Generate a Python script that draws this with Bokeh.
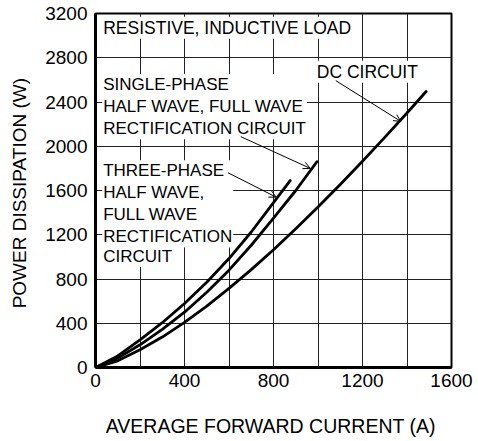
import math
from bokeh.plotting import figure
from bokeh.models import Range1d, FixedTicker, Label, Arrow, OpenHead
from bokeh.embed import file_html
from bokeh.resources import INLINE

FONT = "Liberation Sans"

# Data (A -> W)
three_x = [0, 100, 200, 300, 400, 500, 600, 700, 800, 875]
three_y = [0, 105, 250, 405, 578, 770, 985, 1225, 1490, 1690]
single_x = [0, 100, 200, 300, 400, 500, 600, 700, 800, 900, 995]
single_y = [0, 85, 205, 345, 500, 680, 880, 1105, 1350, 1600, 1860]
dc_x = [0, 100, 200, 300, 400, 500, 600, 700, 800, 900, 1000, 1100, 1200, 1300, 1400, 1486]
dc_y = [0, 60, 160, 275, 408, 555, 715, 885, 1065, 1255, 1450, 1655, 1865, 2080, 2300, 2495]

x_ticks = [0, 400, 800, 1200, 1600]
y_ticks = [0, 400, 800, 1200, 1600, 2000, 2400, 2800, 3200]
x_grid = [200, 400, 600, 800, 1000, 1200, 1400]
y_grid = [400, 800, 1200, 1600, 2000, 2400, 2800]

x_title = "AVERAGE FORWARD CURRENT  (A)"
y_title = "POWER DISSIPATION  (W)"
load_text = "RESISTIVE, INDUCTIVE LOAD"
single_text = "SINGLE-PHASE\nHALF WAVE, FULL WAVE\nRECTIFICATION CIRCUIT"
three_text = "THREE-PHASE\nHALF WAVE,\nFULL WAVE\nRECTIFICATION"
three_text2 = "CIRCUIT"
dc_text = "DC CIRCUIT"

p = figure(width=478, height=441, output_backend="svg", toolbar_location=None,
           x_range=Range1d(0, 1600), y_range=Range1d(0, 3200),
           min_border_left=95, min_border_right=27, min_border_top=13, min_border_bottom=74)
p.background_fill_color = "white"
p.border_fill_color = "white"
p.outline_line_color = "black"
p.outline_line_width = 2

p.xaxis.ticker = FixedTicker(ticks=x_ticks)
p.yaxis.ticker = FixedTicker(ticks=y_ticks)
p.xgrid.ticker = FixedTicker(ticks=x_grid)
p.ygrid.ticker = FixedTicker(ticks=y_grid)
for g in (p.xgrid, p.ygrid):
    g.grid_line_color = "#222222"
    g.grid_line_width = 1
    g.grid_line_alpha = 1.0

for ax in (p.xaxis, p.yaxis):
    ax.axis_line_color = "black"
    ax.axis_line_width = 3
    ax.major_tick_in = 0
    ax.major_tick_out = 0
    ax.minor_tick_in = 0
    ax.minor_tick_out = 0
    ax.major_label_text_font = FONT
    ax.major_label_text_font_size = "19px"
    ax.major_label_text_color = "black"
    ax.axis_label_text_font = FONT
    ax.axis_label_text_font_style = "normal"
    ax.axis_label_text_color = "black"
p.xaxis.major_label_standoff = 6
p.yaxis.major_label_standoff = 8

p.xaxis.axis_label = x_title
p.xaxis.axis_label_text_font_size = "19.5px"
p.xaxis.axis_label_standoff = 25
p.yaxis.axis_label = y_title
p.yaxis.axis_label_text_font_size = "19px"
p.yaxis.axis_label_standoff = 12

for xs, ys in ((three_x, three_y), (single_x, single_y), (dc_x, dc_y)):
    p.line(xs, ys, line_color="black", line_width=2.8, line_join="round", line_cap="round")


def add_label(x, y, text, size="17px"):
    p.add_layout(Label(x=x, y=y, text=text, text_font=FONT, text_font_size=size,
                       text_color="black", text_align="left", text_baseline="middle",
                       text_line_height=1.16, background_fill_color="white",
                       background_fill_alpha=1.0, padding=1))


add_label(30, 3071, load_text, "17.5px")
add_label(30, 2358, single_text)
add_label(30, 1479, three_text)
add_label(30, 1003, three_text2)
add_label(990, 2674, dc_text, "17.5px")

for xs, ys, xe, ye in ((1080, 2593, 1372, 2225), (653, 2087, 965, 1800), (595, 1761, 812, 1540)):
    p.add_layout(Arrow(end=OpenHead(size=7, line_width=1, line_color="black"),
                       x_start=xs, y_start=ys, x_end=xe, y_end=ye,
                       line_color="black", line_width=1))

open("out.html", "w").write(file_html(p, INLINE))
